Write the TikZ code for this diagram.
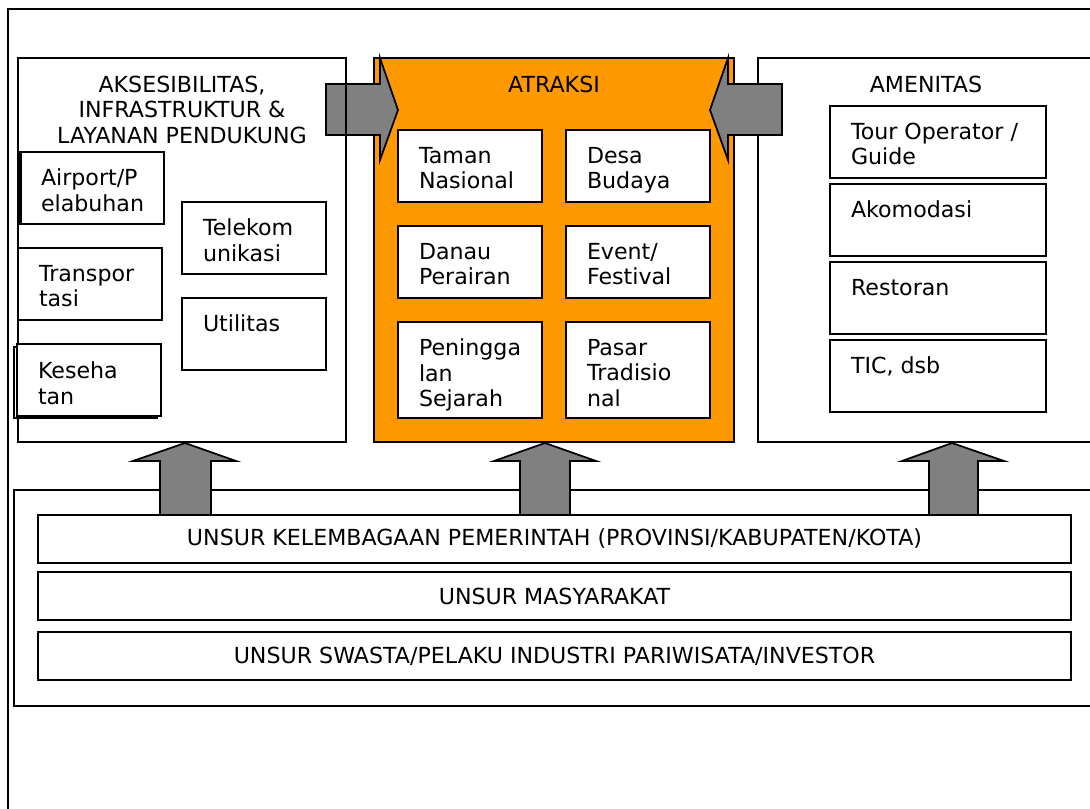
\documentclass[tikz,border=0pt]{standalone}
\usepackage{fontspec}
\setmainfont{DejaVu Sans}
\definecolor{orng}{RGB}{255,153,0}
\definecolor{arrowgray}{RGB}{128,128,128}
\begin{document}
\begin{tikzpicture}[x=0.02cm,y=-0.02cm,
  line width=1pt,
  every node/.style={inner sep=0pt, outer sep=0pt},
  panel/.style={draw, fill=white, anchor=north west},
  subbox/.style={draw, fill=white, anchor=north west, minimum width=144*0.02cm, minimum height=72*0.02cm},
  amenbox/.style={subbox, minimum width=216*0.02cm},
  txt/.style={anchor=north west, align=left, font=\fontsize{12.6}{14.5}\selectfont},
  ttl/.style={anchor=north, align=center, font=\fontsize{12.6}{14.5}\selectfont},
  blockarrow/.style={draw, fill=arrowgray, line join=miter},
  barbox/.style={draw, fill=white, anchor=north west, minimum width=1033*0.02cm, minimum height=48*0.02cm, font=\fontsize{12.6}{14.5}\selectfont}]
\useasboundingbox (0,0) rectangle (1090,809);
\clip (0,0) rectangle (1090,809);
% outer frame
\node[draw, line width=0.7pt, anchor=north west, minimum width=1100*0.02cm, minimum height=820*0.02cm] (frame) at (8,9) {};
% top panels
\node[panel, minimum width=328*0.02cm, minimum height=384*0.02cm] (aks) at (18,58) {};
\node[panel, fill=orng, minimum width=360*0.02cm, minimum height=384*0.02cm] (atr) at (374,58) {};
\node[panel, minimum width=400*0.02cm, minimum height=384*0.02cm] (amen) at (758,58) {};
% titles
\node[ttl] (taks) at (182,76) {AKSESIBILITAS,\\INFRASTRUKTUR \&\\LAYANAN PENDUKUNG};
\node[ttl] (tatr) at (554,76) {ATRAKSI};
\node[ttl] (tamen) at (926,76) {AMENITAS};
% left sub boxes
\node[subbox] (air) at (20,152) {};
\draw (air.north west) ++(1.5,0) -- ++(0,72);
\node[txt] (tair) at ([shift={(21,17)}]air.north west) {Airport/P\\elabuhan};
\node[subbox] (trans) at (18,248) {};
\node[txt] (ttrans) at ([shift={(21,17)}]trans.north west) {Transpor\\tasi};
\node[draw, anchor=north west, minimum width=143*0.02cm, minimum height=71*0.02cm] (kesshadow) at (14,347) {};
\node[subbox] (kes) at (17,344) {};
\node[txt] (tkes) at ([shift={(21,18)}]kes.north west) {Keseha\\tan};
\node[subbox] (tele) at (182,202) {};
\node[txt] (ttele) at ([shift={(21,17)}]tele.north west) {Telekom\\unikasi};
\node[subbox] (util) at (182,298) {};
\node[txt] (tutil) at ([shift={(21,17)}]util.north west) {Utilitas};
% atraksi sub boxes
\node[subbox] (taman) at (398,130) {};
\node[txt] (ttaman) at ([shift={(21,17)}]taman.north west) {Taman\\Nasional};
\node[subbox] (desa) at (566,130) {};
\node[txt] (tdesa) at ([shift={(21,17)}]desa.north west) {Desa\\Budaya};
\node[subbox] (danau) at (398,226) {};
\node[txt] (tdanau) at ([shift={(21,17)}]danau.north west) {Danau\\Perairan};
\node[subbox] (event) at (566,226) {};
\node[txt] (tevent) at ([shift={(21,17)}]event.north west) {Event/\\Festival};
\node[subbox, minimum height=96*0.02cm] (pen) at (398,322) {};
\node[txt] (tpen) at ([shift={(21,17)}]pen.north west) {Peningga\\lan\\Sejarah};
\node[subbox, minimum height=96*0.02cm] (pasar) at (566,322) {};
\node[txt] (tpasar) at ([shift={(21,17)}]pasar.north west) {Pasar\\Tradisio\\nal};
% amenitas sub boxes
\node[amenbox] (tour) at (830,106) {};
\node[txt] (ttour) at ([shift={(21,17)}]tour.north west) {Tour Operator /\\Guide};
\node[amenbox] (ako) at (830,184) {};
\node[txt] (tako) at ([shift={(21,17)}]ako.north west) {Akomodasi};
\node[amenbox] (rest) at (830,262) {};
\node[txt] (trest) at ([shift={(21,17)}]rest.north west) {Restoran};
\node[amenbox] (tic) at (830,340) {};
\node[txt] (ttic) at ([shift={(21,17)}]tic.north west) {TIC, dsb};
% horizontal block arrows
\draw[blockarrow] (326,84) -- (380,84) -- (380,58) -- (398,110) -- (380,160) -- (380,135) -- (326,135) -- cycle;
\draw (aks.north east) -- (aks.south east);
\draw[blockarrow] (782,84) -- (728,84) -- (728,58) -- (710,110) -- (728,160) -- (728,135) -- (782,135) -- cycle;
% bottom panel
\node[panel, minimum width=1100*0.02cm, minimum height=216*0.02cm] (base) at (14,490) {};
% up block arrows
\draw[blockarrow] (160,515) -- (160,461) -- (133,461) -- (185,443) -- (236,461) -- (211,461) -- (211,515) -- cycle;
\draw[blockarrow] (520,515) -- (520,461) -- (494,461) -- (545,443) -- (596,461) -- (570,461) -- (570,515) -- cycle;
\draw[blockarrow] (929,515) -- (929,461) -- (902,461) -- (952,443) -- (1004,461) -- (978,461) -- (978,515) -- cycle;
% bars
\node[barbox] (pem) at (38,515) {UNSUR KELEMBAGAAN PEMERINTAH (PROVINSI/KABUPATEN/KOTA)};
\node[barbox] (mas) at (38,572) {UNSUR MASYARAKAT};
\node[barbox] (swa) at (38,632) {UNSUR SWASTA/PELAKU INDUSTRI PARIWISATA/INVESTOR};
\end{tikzpicture}
\end{document}
